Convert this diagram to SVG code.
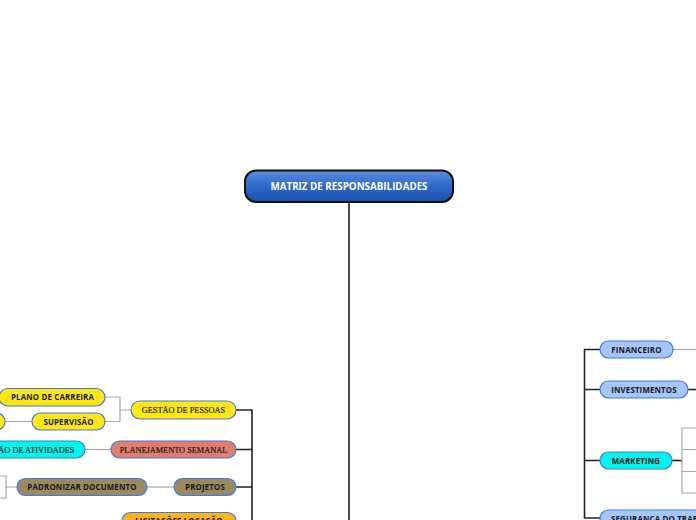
<svg xmlns="http://www.w3.org/2000/svg" width="696" height="520" viewBox="0 0 696 520">
<defs>
<linearGradient id="rootg" x1="0" y1="0" x2="0" y2="1">
<stop offset="0" stop-color="#5b8ee0"/>
<stop offset="0.5" stop-color="#2f68c8"/>
<stop offset="1" stop-color="#1a4fae"/>
</linearGradient>
<style>
.main{stroke:#222;stroke-width:1.6;fill:none}
.sub{stroke:#a6a6a6;stroke-width:1.2;fill:none}
.pill{stroke:#3d7be0;stroke-width:1.2}
.sans{font-family:"Open Sans","Liberation Sans",sans-serif;font-weight:bold;font-size:7.9px;letter-spacing:0.15px;fill:#1a1a1a;text-anchor:middle}
.serif{font-family:"Liberation Serif","DejaVu Serif",serif;font-size:8.3px;fill:#111;text-anchor:middle;stroke:#111;stroke-width:0.15}
.yellow{fill:#ffe714}
.cyan{fill:#00f5ec}
.salmon{fill:#e07d6c}
.brown{fill:#9d895f}
.lblue{fill:#a6c6f7}
.orange{fill:#f9b417}
</style>
</defs>
<rect width="696" height="520" fill="#ffffff"/>
<g id="connectors">
<path class="main" d="M349 202 V520"/>
<path class="main" d="M236 410 H252 V520 M236 449.5 H252 M236 487 H252"/>
<path class="sub" d="M131 410 H120 M105 397 H120 V421.5 H105"/>
<path class="sub" d="M5 421.5 H32"/>
<path class="sub" d="M85 449.5 H111"/>
<path class="sub" d="M147 487 H174"/>
<path class="sub" d="M17 487 H6 M0 476 H6 V498 H0"/>
<path class="main" d="M600 349.5 H584.5 V518 H600 M584.5 389.5 H600 M584.5 460.5 H600"/>
<path class="sub" d="M673 349.5 H696"/>
<path class="main" d="M688 389.5 H696"/>
<path class="main" d="M672 460.5 H682"/>
<path class="sub" d="M696 428 H682 V493 H696 M682 449.5 H696 M682 471.5 H696"/>
</g>
<g id="root">
<rect x="245" y="170.5" width="208" height="31.5" rx="11" fill="url(#rootg)" stroke="#111" stroke-width="2"/>
<text x="349" y="190" font-family="'Open Sans','Liberation Sans',sans-serif" font-weight="bold" font-size="9.8" fill="#ffffff" text-anchor="middle">MATRIZ DE RESPONSABILIDADES</text>
</g>
<g id="n-gestao-pessoas">
<rect class="pill yellow" x="131" y="401" width="105" height="18" rx="9"/>
<text class="serif" x="183.5" y="413">GESTÃO DE PESSOAS</text>
</g>
<g id="n-plano-carreira">
<rect class="pill yellow" x="-1" y="388.5" width="106" height="17.5" rx="8.75"/>
<text class="sans" x="52.5" y="400.2">PLANO DE CARREIRA</text>
</g>
<g id="n-supervisao">
<rect class="pill yellow" x="32" y="413" width="73" height="17" rx="8.5"/>
<text class="sans" x="68.5" y="424.6">SUPERVISÃO</text>
</g>
<g id="n-left-yellow">
<rect class="pill yellow" x="-40" y="413" width="45" height="17" rx="8.5"/>
</g>
<g id="n-planejamento">
<rect class="pill salmon" x="111" y="441" width="125" height="17" rx="8.5"/>
<text class="serif" x="173.5" y="452.6">PLANEJAMENTO SEMANAL</text>
</g>
<g id="n-atividades">
<rect class="pill cyan" x="-40" y="441" width="125" height="17" rx="8.5"/>
<text class="serif" x="26" y="452.6">GESTÃO DE ATIVIDADES</text>
</g>
<g id="n-projetos">
<rect class="pill brown" x="174" y="478.5" width="62" height="17" rx="8.5"/>
<text class="sans" x="205" y="490">PROJETOS</text>
</g>
<g id="n-padronizar">
<rect class="pill brown" x="17" y="478.5" width="130" height="17" rx="8.5"/>
<text class="sans" x="82" y="490">PADRONIZAR DOCUMENTO</text>
</g>
<g id="n-licitacoes">
<rect class="pill orange" x="122" y="512.5" width="114" height="17" rx="8.5"/>
<text class="sans" x="179" y="524">LICITAÇÕES LOCAÇÃO</text>
</g>
<g id="n-financeiro">
<rect class="pill lblue" x="600" y="341" width="73" height="17" rx="8.5"/>
<text class="sans" x="636.5" y="352.5">FINANCEIRO</text>
</g>
<g id="n-investimentos">
<rect class="pill lblue" x="600" y="381" width="88" height="17" rx="8.5"/>
<text class="sans" x="644" y="392.5">INVESTIMENTOS</text>
</g>
<g id="n-marketing">
<rect class="pill cyan" x="600" y="452" width="72" height="17" rx="8.5"/>
<text class="sans" x="636" y="463.5">MARKETING</text>
</g>
<g id="n-seguranca">
<rect class="pill lblue" x="600" y="510" width="130" height="17" rx="8.5"/>
<text class="sans" x="611" y="521.5" style="text-anchor:start">SEGURANCA DO TRABALHO</text>
</g>
</svg>
